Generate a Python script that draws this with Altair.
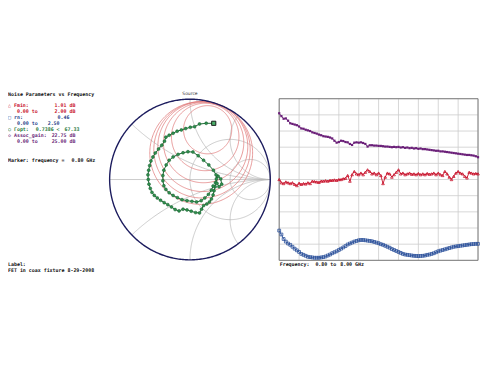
import altair as alt
import numpy as np
import pandas as pd

# ---------------- data ----------------
freq_ghz = [0.80, 0.88, 0.96, 1.04, 1.12, 1.20, 1.28, 1.36, 1.44, 1.52, 1.60, 1.68, 1.76, 1.84, 1.92,
            2.00, 2.08, 2.16, 2.24, 2.32, 2.40, 2.48, 2.56, 2.64, 2.72, 2.80, 2.88, 2.96, 3.04, 3.12,
            3.20, 3.28, 3.36, 3.44, 3.52, 3.60, 3.68, 3.76, 3.84, 3.92, 4.00, 4.08, 4.16, 4.24, 4.32,
            4.40, 4.48, 4.56, 4.64, 4.72, 4.80, 4.88, 4.96, 5.04, 5.12, 5.20, 5.28, 5.36, 5.44, 5.52,
            5.60, 5.68, 5.76, 5.84, 5.92, 6.00, 6.08, 6.16, 6.24, 6.32, 6.40, 6.48, 6.56, 6.64, 6.72,
            6.80, 6.88, 6.96, 7.04, 7.12, 7.20, 7.28, 7.36, 7.44, 7.52, 7.60, 7.68, 7.76, 7.84, 7.92, 8.00]

assoc_gain_db = [22.75, 22.3, 21.9, 21.95, 21.6, 21.2, 21.1, 21.0, 20.9, 20.7, 20.4, 20.35, 20.2, 20.1, 20.0,
                 19.8, 19.7, 19.6, 19.45, 19.35, 19.2, 19.15, 19.1, 19.0, 18.85, 18.5, 18.2, 18.3, 18.5, 18.45,
                 18.3, 18.25, 18.0, 17.85, 18.2, 18.25, 18.2, 18.25, 18.15, 18.0, 17.6, 17.8, 17.8, 17.75, 17.75,
                 17.7, 17.7, 17.65, 17.6, 17.6, 17.55, 17.5, 17.55, 17.5, 17.55, 17.45, 17.5, 17.4, 17.45, 17.35,
                 17.4, 17.3, 17.35, 17.25, 17.3, 17.2, 17.2, 17.15, 17.1, 17.05, 17.0, 16.95, 16.95, 16.85, 16.85,
                 16.8, 16.75, 16.7, 16.65, 16.6, 16.55, 16.5, 16.45, 16.4, 16.35, 16.3, 16.3, 16.25, 16.2, 16.1, 15.95]

fmin_db = [1.00, 0.96, 0.95, 0.97, 0.96, 0.95, 0.96, 0.94, 0.925, 0.955, 0.94, 0.95, 0.945, 0.96, 0.95,
           0.98, 0.975, 0.97, 0.965, 0.98, 0.98, 0.985, 0.98, 0.99, 0.99, 0.995, 0.99, 1.0, 1.0, 1.01,
           1.015, 1.05, 0.98, 1.06, 1.1, 1.07, 1.06, 1.08, 1.06, 1.09, 1.12, 1.1, 1.07, 1.08, 1.06,
           1.08, 1.05, 0.95, 1.03, 1.08, 1.07, 1.03, 1.06, 1.09, 1.12, 1.07, 1.08, 1.06, 1.07, 1.08,
           1.065, 1.07, 1.06, 1.075, 1.06, 1.07, 1.06, 1.075, 1.065, 1.07, 1.08, 1.06, 1.08, 1.06, 1.05,
           1.1, 1.07, 1.03, 1.0, 1.04, 1.08, 1.1, 1.08, 1.07, 1.04, 1.02, 1.09, 1.08, 1.07, 1.075, 1.07]

rn = [0.46, 0.40, 0.33, 0.29, 0.26, 0.24, 0.21, 0.18, 0.155, 0.13, 0.10, 0.085, 0.07, 0.055, 0.05,
      0.045, 0.04, 0.04, 0.04, 0.045, 0.05, 0.06, 0.075, 0.09, 0.11, 0.125, 0.14, 0.16, 0.18, 0.20,
      0.22, 0.245, 0.26, 0.275, 0.29, 0.30, 0.31, 0.315, 0.315, 0.31, 0.305, 0.30, 0.295, 0.285, 0.275,
      0.265, 0.25, 0.24, 0.225, 0.21, 0.195, 0.175, 0.16, 0.145, 0.13, 0.115, 0.10, 0.09, 0.085, 0.08,
      0.075, 0.07, 0.068, 0.066, 0.068, 0.07, 0.075, 0.085, 0.09, 0.10, 0.11, 0.125, 0.14, 0.15, 0.16,
      0.17, 0.18, 0.19, 0.20, 0.21, 0.215, 0.22, 0.225, 0.23, 0.235, 0.24, 0.245, 0.25, 0.252, 0.255, 0.255]

# Gamma_opt trace on the Smith chart (real, imag)
gopt_re = [0.296, 0.202, 0.119, 0.058, 0.004, -0.053, -0.107, -0.160, -0.210, -0.259, -0.300, -0.317,
           -0.350, -0.391, -0.432, -0.461, -0.486, -0.502, -0.514, -0.523, -0.519, -0.510, -0.494, -0.473,
           -0.444, -0.407, -0.366, -0.321, -0.276, -0.230, -0.185, -0.136, -0.086, -0.037, 0.016, 0.070,
           0.119, 0.144, 0.169, 0.210, 0.243, 0.267, 0.288, 0.300, 0.313, 0.317, 0.329, 0.350, 0.383,
           0.395, 0.362, 0.337, 0.325, 0.292, 0.235, 0.169, 0.103, 0.037, -0.025, -0.086, -0.148, -0.210,
           -0.259, -0.296, -0.325, -0.337, -0.337, -0.325, -0.300, -0.259, -0.210, -0.156, -0.099, -0.037,
           0.025, 0.082, 0.140, 0.185, 0.230, 0.267, 0.288]
gopt_im = [0.700, 0.700, 0.691, 0.658, 0.650, 0.634, 0.617, 0.601, 0.576, 0.551, 0.527, 0.477,
           0.428, 0.379, 0.329, 0.280, 0.230, 0.173, 0.115, 0.058, 0.000, -0.058, -0.111, -0.160,
           -0.198, -0.230, -0.259, -0.288, -0.313, -0.342, -0.374, -0.391, -0.370, -0.379, -0.395, -0.412,
           -0.416, -0.370, -0.325, -0.305, -0.280, -0.243, -0.193, -0.140, -0.091, -0.041, 0.008, 0.041, 0.008,
           -0.058, -0.091, -0.049, 0.058, 0.115, 0.181, 0.239, 0.296, 0.342, 0.346, 0.333, 0.313, 0.280,
           0.239, 0.181, 0.115, 0.049, -0.016, -0.078, -0.123, -0.165, -0.198, -0.226, -0.251, -0.263,
           -0.272, -0.280, -0.263, -0.230, -0.185, -0.132, -0.082]

# noise circles (centre re, centre im, radius) in reflection-coefficient units
nc_re = [0.22, 0.19, 0.17, 0.16, 0.15, 0.14]
nc_im = [0.62, 0.53, 0.46, 0.41, 0.37, 0.33]
nc_rad = [0.30, 0.42, 0.50, 0.56, 0.60, 0.64]

# Smith chart grid
r_circles = [1.0, 3.0]
x_arcs = [0.4, 1.0, 2.0, -0.4, -1.0, -2.0]

# marker readout texts
marker_freq = "0.80 GHz"
fmin_txt, fmin_rng = "1.01 dB", "2.00 dB"
rn_txt, rn_rng = "0.46", "2.50"
gopt_mag, gopt_ang = "0.7386 <", "67.33"
gain_txt, gain_rng = "22.75 dB", "25.00 dB"

# ---------------- layout (chart pixels) ----------------
W, H = 476, 349
SCX, SCY, SR = 183.5, 171.5, 81.0
PX0, PX1, PY0, PY1 = 273.5, 474.0, 90.0, 253.0


def sx():
    return alt.Scale(domain=[-1, 1], range=[SCX - SR, SCX + SR], nice=False, zero=False)


def sy():
    return alt.Scale(domain=[-1, 1], range=[SCY + SR, SCY - SR], nice=False, zero=False)


def polyline_rows(pts, grp):
    return [{"re": float(p.real), "im": float(p.imag), "grp": grp, "ord": k} for k, p in enumerate(pts)]


# gray grid
rows = []
th = np.linspace(0, 2 * np.pi, 241)
for i, r in enumerate(r_circles):
    c = r / (1 + r)
    rad = 1 / (1 + r)
    rows += polyline_rows(c + rad * np.exp(1j * th), f"r{i}")
t = np.concatenate([[0.0], np.logspace(-3, 3, 300)])
for i, xv in enumerate(x_arcs):
    z = t + 1j * xv
    rows += polyline_rows((z - 1) / (z + 1), f"x{i}")
rows += polyline_rows(np.array([-1 + 0j, 1 + 0j]), "axis")
grid_df = pd.DataFrame(rows)

rows = []
for i in range(len(nc_re)):
    pts = complex(nc_re[i], nc_im[i]) + nc_rad[i] * np.exp(1j * th)
    rows += polyline_rows(pts, f"n{i}")
noise_df = pd.DataFrame(rows)

unit_df = pd.DataFrame(polyline_rows(np.exp(1j * np.linspace(0, 2 * np.pi, 361)), "u"))

gopt_df = pd.DataFrame({"re": gopt_re, "im": gopt_im, "ord": list(range(len(gopt_re)))})


def smith_line(df, color, width):
    return alt.Chart(df).mark_line(color=color, strokeWidth=width, interpolate="linear").encode(
        x=alt.X("re:Q", scale=sx(), axis=None),
        y=alt.Y("im:Q", scale=sy(), axis=None),
        detail="grp:N",
        order=alt.Order("ord:Q"),
    )


grid_layer = smith_line(grid_df, "#b5b5b5", 0.7)
noise_layer = smith_line(noise_df, "#e07a7a", 0.75)
unit_layer = smith_line(unit_df, "#1c1c5e", 1.4)

gopt_line = alt.Chart(gopt_df).mark_line(color="#1d6a35", strokeWidth=1).encode(
    x=alt.X("re:Q", scale=sx(), axis=None),
    y=alt.Y("im:Q", scale=sy(), axis=None),
    order=alt.Order("ord:Q"),
)
gopt_pts = alt.Chart(gopt_df).mark_point(shape="circle", filled=True, size=9, color="#2f8f4e",
                                         stroke="#185c2c", strokeWidth=0.5, opacity=1).encode(
    x=alt.X("re:Q", scale=sx(), axis=None),
    y=alt.Y("im:Q", scale=sy(), axis=None),
)
gopt_start = alt.Chart(gopt_df.iloc[:1]).mark_point(shape="square", filled=True, size=18, fill="#4caf6a",
                                                    stroke="#111111", strokeWidth=0.9, opacity=1).encode(
    x=alt.X("re:Q", scale=sx(), axis=None),
    y=alt.Y("im:Q", scale=sy(), axis=None),
)

# ---------------- rectangular panel ----------------
grid_fracs = pd.DataFrame({"f": [i / 10 for i in range(11)]})
edge_fracs = pd.DataFrame({"f": [0.0, 1.0]})
fx = alt.Scale(domain=[0, 1], range=[PX0, PX1], nice=False, zero=False)
fy = alt.Scale(domain=[0, 1], range=[PY1, PY0], nice=False, zero=False)

vgrid = alt.Chart(grid_fracs).mark_rule(color="#cdcdcd", strokeWidth=0.8).encode(
    x=alt.X("f:Q", scale=fx, axis=None), y=alt.value(PY0), y2=alt.value(PY1))
hgrid = alt.Chart(grid_fracs).mark_rule(color="#cdcdcd", strokeWidth=0.8).encode(
    y=alt.Y("f:Q", scale=fy, axis=None), x=alt.value(PX0), x2=alt.value(PX1))
vedge = alt.Chart(edge_fracs).mark_rule(color="#7d7d7d", strokeWidth=1).encode(
    x=alt.X("f:Q", scale=fx, axis=None), y=alt.value(PY0), y2=alt.value(PY1))
hedge = alt.Chart(edge_fracs).mark_rule(color="#7d7d7d", strokeWidth=1).encode(
    y=alt.Y("f:Q", scale=fy, axis=None), x=alt.value(PX0), x2=alt.value(PX1))

rect_df = pd.DataFrame({"freq": freq_ghz, "gain": assoc_gain_db, "fmin": fmin_db, "rn": rn})
freq_scale = alt.Scale(domain=[0.8, 8.0], range=[PX0, PX1], nice=False, zero=False)


def series(field, top, color, shape, filled, size):
    ys = alt.Scale(domain=[0, top], range=[PY1, PY0], nice=False, zero=False)
    enc = dict(x=alt.X("freq:Q", scale=freq_scale, axis=None), y=alt.Y(f"{field}:Q", scale=ys, axis=None))
    line = alt.Chart(rect_df).mark_line(color=color, strokeWidth=0.9).encode(**enc)
    pts = alt.Chart(rect_df).mark_point(shape=shape, filled=filled, size=size, color=color,
                                        strokeWidth=0.8, opacity=1).encode(**enc)
    return [line, pts]


gain_layers = series("gain", 25, "#6a1f78", "square", True, 5)
fmin_layers = series("fmin", 2, "#c8102a", "triangle-up", False, 7)
rn_layers = series("rn", 2.5, "#2a4f9a", "square", False, 8)

# ---------------- texts ----------------
RED, BLUE, GREEN, PURPLE, BLACK = "#c8102a", "#2a3f8a", "#1f7a3c", "#6a1f78", "#111111"
left_texts = [
    ("Noise Parameters vs Frequency", 0, 85, BLACK),
    ("△ Fmin:", 0, 96, RED),
    ("0.00 to", 9, 102, RED),
    ("□ rn:", 0, 108.5, BLUE),
    ("0.00 to", 9, 114.5, BLUE),
    ("○ Γopt:", 0, 120.5, GREEN),
    (gopt_mag, 28, 120.5, GREEN),
    ("◇ Assoc_gain:", 0, 126.5, PURPLE),
    ("0.00 to", 9, 133, PURPLE),
    ("Marker: frequency =", 0, 152, BLACK),
    ("Label:", 0, 257, BLACK),
    ("FET in coax fixture 8-29-2008", 0, 262.5, BLACK),
    ("Frequency:", 274, 256.5, BLACK),
    ("0.80 to", 310, 256.5, BLACK),
    ("8.00 GHz", 335, 256.5, BLACK),
]
right_texts = [
    (fmin_txt, 68, 96, RED),
    (fmin_rng, 68, 102, RED),
    (rn_txt, 62, 108.5, BLUE),
    (rn_rng, 52, 114.5, BLUE),
    (gopt_ang, 72, 120.5, GREEN),
    (gain_txt, 68, 126.5, PURPLE),
    (gain_rng, 68, 133, PURPLE),
    (marker_freq, 88, 152, BLACK),
]


def text_layer(items, align):
    df = pd.DataFrame({"txt": [t[0] for t in items], "px": [t[1] for t in items],
                       "py": [t[2] for t in items], "col": [t[3] for t in items]})
    return alt.Chart(df).mark_text(align=align, baseline="middle", font="DejaVu Sans Mono",
                                   fontSize=5, fontWeight="bold").encode(
        x=alt.X("px:Q", scale=None, axis=None),
        y=alt.Y("py:Q", scale=None, axis=None),
        text="txt:N",
        color=alt.Color("col:N", scale=None),
    )


source_lbl = alt.Chart(pd.DataFrame({"txt": ["Source"]})).mark_text(
    align="center", baseline="middle", font="DejaVu Sans", fontSize=4.5, color="#333333").encode(
    x=alt.value(SCX), y=alt.value(SCY - SR - 5), text="txt:N")

layers = [grid_layer, noise_layer, unit_layer, gopt_line, gopt_pts, gopt_start,
          vgrid, hgrid, vedge, hedge] + gain_layers + fmin_layers + rn_layers + [
          text_layer(left_texts, "left"), text_layer(right_texts, "right"), source_lbl]

chart = alt.layer(*layers).resolve_scale(x="independent", y="independent").properties(
    width=W, height=H, padding=0, autosize=alt.AutoSizeParams(type="none"), background="white"
).configure_view(stroke=None)

chart.save("out.html", embed_options={"renderer": "svg", "actions": False})
